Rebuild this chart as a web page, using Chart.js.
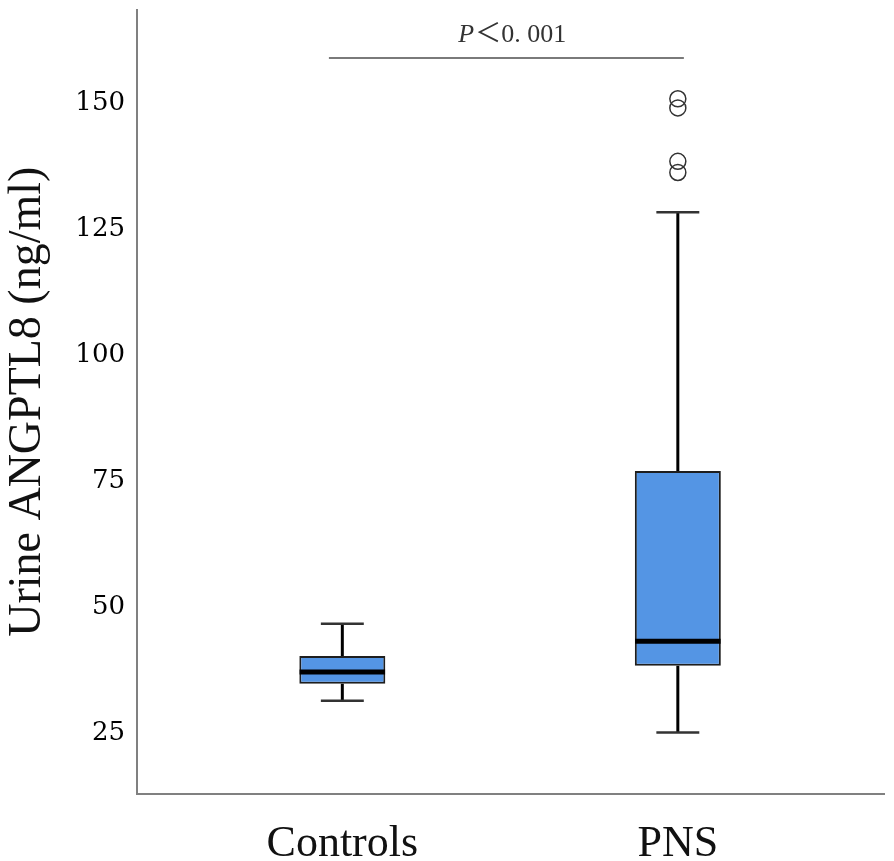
<!DOCTYPE html>
<html>
<head>
<meta charset="utf-8">
<script src="https://cdn.jsdelivr.net/npm/chart.js@4/dist/chart.umd.min.js"></script>
<style>
  body { margin: 0; background: #fff; }
  canvas { display: block; }
</style>
</head>
<body>
<canvas id="boxChart" width="894" height="861"></canvas>
<script>
// values
const categories = ["Controls", "PNS"];
const whiskerLow = [31.5, 25.2];
const q1 = [34.85, 38.4];
const median = [37.2, 43.3];
const q3 = [40.35, 77.0];
const whiskerHigh = [46.75, 128.3];
const outliers = [[], [150.8, 149.0, 138.4, 136.2]];
const yTicks = [25, 50, 75, 100, 125, 150];
const pText = ["P", "\uFF1C0. 001"];

// annotation placement (in axis units)
const bracket = { from: 0.96, to: 2.018, y: 158.9, textX: 1.505, textY: 162.0 };
const boxHalf = 0.1274;
const capHalf = 0.064;

const xPos = categories.map((c, i) => i + 1);

function segments(list) {
    const pts = [];
    list.forEach(([x0, y0, x1, y1]) => {
        pts.push({ x: x0, y: y0 }, { x: x1, y: y1 }, { x: x1, y: null });
    });
    return pts;
}

const whiskerData = segments(xPos.flatMap((x, i) => [
    [x, q3[i], x, whiskerHigh[i]],
    [x, q1[i], x, whiskerLow[i]]
]));
const capData = segments(xPos.flatMap((x, i) => [
    [x - capHalf, whiskerHigh[i], x + capHalf, whiskerHigh[i]],
    [x - capHalf, whiskerLow[i], x + capHalf, whiskerLow[i]]
]));
const medianData = segments(xPos.map((x, i) => [x - boxHalf, median[i], x + boxHalf, median[i]]));
const outlierData = xPos.flatMap((x, i) => outliers[i].map(v => ({ x: x, y: v })));

// P value text above the bracket
const pValuePlugin = {
    id: "pValue",
    afterDatasetsDraw(chart) {
        const { ctx, scales: { x, y } } = chart;
        const cx = x.getPixelForValue(bracket.textX);
        const cy = y.getPixelForValue(bracket.textY);
        const fontItalic = 'italic 26px "Liberation Serif"';
        const fontNormal = '26px "Liberation Serif", "Noto Sans CJK SC"';
        ctx.save();
        ctx.fillStyle = "#333";
        ctx.textBaseline = "alphabetic";
        ctx.font = fontItalic;
        const w1 = ctx.measureText(pText[0]).width;
        ctx.font = fontNormal;
        const w2 = ctx.measureText(pText[1]).width;
        let left = cx - (w1 + w2) / 2;
        ctx.font = fontItalic;
        ctx.fillText(pText[0], left, cy);
        ctx.font = fontNormal;
        ctx.fillText(pText[1], left + w1 + 1, cy);
        ctx.restore();
    }
};

function noEdgePadding(scale) {
    scale.paddingTop = 0;
    scale.paddingBottom = 0;
    scale.paddingLeft = 0;
    scale.paddingRight = 0;
}

new Chart(document.getElementById("boxChart").getContext("2d"), {
    type: "bar",
    data: {
        datasets: [
            {
                type: "bar",
                data: xPos.map((x, i) => ({ x: x, y: [q1[i], q3[i]] })),
                backgroundColor: "#5495e4",
                borderColor: "#1e1e1e",
                borderWidth: 2,
                borderSkipped: false,
                inflateAmount: 0,
                barThickness: 86,
                order: 5
            },
            {
                type: "line",
                data: whiskerData,
                borderColor: "#000",
                borderWidth: 3,
                pointRadius: 0,
                spanGaps: false,
                fill: false,
                order: 6
            },
            {
                type: "line",
                data: capData,
                borderColor: "#333",
                borderWidth: 2.5,
                pointRadius: 0,
                spanGaps: false,
                fill: false,
                order: 4
            },
            {
                type: "line",
                data: medianData,
                borderColor: "#000",
                borderWidth: 5,
                pointRadius: 0,
                spanGaps: false,
                fill: false,
                order: 3
            },
            {
                type: "line",
                data: [{ x: bracket.from, y: bracket.y }, { x: bracket.to, y: bracket.y }],
                borderColor: "#7a7a7a",
                borderWidth: 2,
                pointRadius: 0,
                fill: false,
                order: 2
            },
            {
                type: "scatter",
                data: outlierData,
                pointStyle: "circle",
                pointRadius: 8,
                pointBorderWidth: 1.5,
                pointBorderColor: "#333",
                pointBackgroundColor: "rgba(0,0,0,0)",
                order: 1
            }
        ]
    },
    options: {
        responsive: false,
        animation: false,
        layout: { padding: { top: 2, right: 0, left: 0, bottom: 0 } },
        plugins: {
            legend: { display: false },
            tooltip: { enabled: false }
        },
        scales: {
            x: {
                type: "linear",
                offset: false,
                min: 0.388,
                max: 2.616,
                grid: { display: false, drawTicks: false, offset: false },
                border: { display: true, color: "#808080", width: 2 },
                afterBuildTicks: scale => { scale.ticks = xPos.map(v => ({ value: v })); },
                afterFit: scale => { scale.height = 67; noEdgePadding(scale); },
                ticks: {
                    autoSkip: false,
                    maxRotation: 0,
                    padding: 24,
                    color: "#111",
                    font: { family: "Liberation Serif", size: 44 },
                    callback: v => categories[v - 1]
                }
            },
            y: {
                min: 13,
                max: 168.5,
                grid: { display: false, drawTicks: false },
                border: { display: true, color: "#808080", width: 2 },
                afterBuildTicks: scale => { scale.ticks = yTicks.map(v => ({ value: v })); },
                afterFit: scale => { scale.width = 137; noEdgePadding(scale); },
                ticks: {
                    padding: 12,
                    color: "#000",
                    font: { family: "DejaVu Serif", size: 26 }
                },
                title: {
                    display: true,
                    text: "Urine ANGPTL8 (ng/ml)",
                    color: "#111",
                    font: { family: "Liberation Serif", size: 46 },
                    padding: { top: 0, bottom: 0 }
                }
            }
        }
    },
    plugins: [pValuePlugin]
});
</script>
</body>
</html>
